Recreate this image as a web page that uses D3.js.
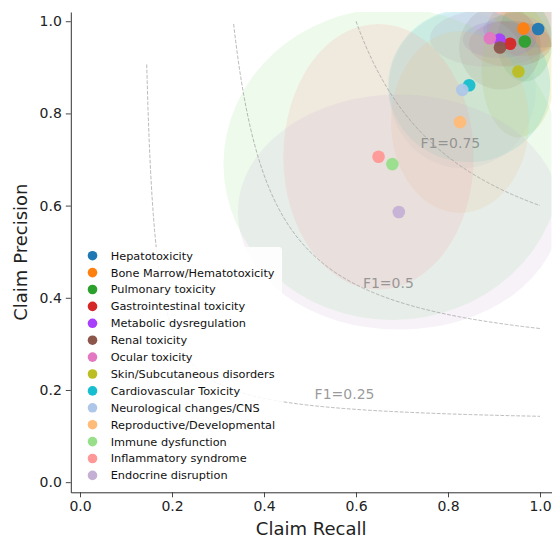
<!DOCTYPE html>
<html>
<head>
<meta charset="utf-8">
<script src="https://cdn.jsdelivr.net/npm/d3@7"></script>
<style>
  html, body { margin: 0; padding: 0; background: #fff; }
  svg { display: block; font-family: "DejaVu Sans", sans-serif; }
</style>
</head>
<body>
<svg id="chart" width="554" height="539"></svg>
<script>
// ---- data ----
const categories = [
  "Hepatotoxicity", "Bone Marrow/Hematotoxicity", "Pulmonary toxicity",
  "Gastrointestinal toxicity", "Metabolic dysregulation", "Renal toxicity",
  "Ocular toxicity", "Skin/Subcutaneous disorders", "Cardiovascular Toxicity",
  "Neurological changes/CNS", "Reproductive/Developmental", "Immune dysfunction",
  "Inflammatory syndrome", "Endocrine disruption"
];
const colors = [
  "#1f77b4", "#ff7f0e", "#2ca02c", "#d62728", "#a83ffc", "#8c564b",
  "#e377c2", "#bcbd22", "#17becf", "#aec7e8", "#ffbb78", "#98df8a",
  "#ff9896", "#c5b0d5"
];
const recall     = [0.996, 0.964, 0.967, 0.935, 0.912, 0.913, 0.891, 0.953, 0.846, 0.831, 0.826, 0.679, 0.649, 0.693];
const precision  = [0.983, 0.984, 0.956, 0.951, 0.960, 0.943, 0.963, 0.891, 0.861, 0.851, 0.781, 0.690, 0.706, 0.586];
const recallStd    = [0.12, 0.08, 0.06, 0.09, 0.08, 0.089, 0.13, 0.08, 0.176, 0.16, 0.15, 0.367, 0.207, 0.35];
const precisionStd = [0.04, 0.06, 0.087, 0.05, 0.04, 0.091, 0.062, 0.143, 0.167, 0.17, 0.197, 0.338, 0.288, 0.255];

const ticks = [0, 0.2, 0.4, 0.6, 0.8, 1.0];
const f1Levels = [0.25, 0.5, 0.75];
const f1StartRecall = [0.145, 0.334, 0.6];
const f1LabelRecall = [0.51, 0.615, 0.74];
const f1LabelPrecision = [0.19, 0.432, 0.735];

// ---- layout ----
const svg = d3.select("#chart");
const x = d3.scaleLinear().domain([-0.02, 1.025]).range([70.8, 551.5]);
const y = d3.scaleLinear().domain([-0.022, 1.02]).range([492.3, 12]);

svg.append("defs").append("clipPath").attr("id", "plotclip")
  .append("rect")
  .attr("x", x.range()[0]).attr("y", y.range()[1])
  .attr("width", x.range()[1] - x.range()[0])
  .attr("height", y.range()[0] - y.range()[1]);

const plot = svg.append("g").attr("clip-path", "url(#plotclip)");

const data = categories.map((c, i) => ({
  name: c, color: colors[i], r: recall[i], p: precision[i],
  sr: recallStd[i], sp: precisionStd[i]
}));

// ellipses
plot.selectAll("ellipse.sd").data(data).join("ellipse")
  .attr("class", "sd")
  .attr("cx", d => x(d.r))
  .attr("cy", d => y(d.p))
  .attr("rx", d => x(d.sr) - x(0))
  .attr("ry", d => y(0) - y(d.sp))
  .attr("fill", d => d.color)
  .attr("fill-opacity", 0.16);

// F1 iso-curves
const line = d3.line().x(d => x(d[0])).y(d => y(d[1]));
f1Levels.forEach((f, i) => {
  const pts = d3.range(0, 301).map(k => {
    const r = f1StartRecall[i] + (1 - f1StartRecall[i]) * k / 300;
    return [r, f * r / (2 * r - f)];
  });
  plot.append("path")
    .attr("d", line(pts))
    .attr("fill", "none")
    .attr("stroke", "#999")
    .attr("stroke-opacity", 0.75)
    .attr("stroke-width", 0.9)
    .attr("stroke-dasharray", "3.7,1.6");
  plot.append("text")
    .attr("x", x(f1LabelRecall[i]))
    .attr("y", y(f1LabelPrecision[i]))
    .attr("dy", "0.35em")
    .attr("font-size", 14)
    .attr("fill", "#888")
    .attr("fill-opacity", 0.85)
    .text("F1=" + f);
});

// points
plot.selectAll("circle.pt").data(data).join("circle")
  .attr("class", "pt")
  .attr("cx", d => x(d.r))
  .attr("cy", d => y(d.p))
  .attr("r", 6.3)
  .attr("fill", d => d.color)
  .attr("fill-opacity", 0.95);

// axes
const xAxis = svg.append("g")
  .attr("transform", `translate(0,${y.range()[0]})`)
  .call(d3.axisBottom(x).tickValues(ticks).tickFormat(d3.format(".1f"))
        .tickSize(5).tickSizeOuter(0).tickPadding(4));
const yAxis = svg.append("g")
  .attr("transform", `translate(${x.range()[0]},0)`)
  .call(d3.axisLeft(y).tickValues(ticks).tickFormat(d3.format(".1f"))
        .tickSize(5).tickSizeOuter(0).tickPadding(4));
[xAxis, yAxis].forEach(a => {
  a.selectAll("text").attr("font-size", 14).attr("fill", "#222")
   .attr("font-family", "DejaVu Sans, sans-serif");
  a.selectAll("line").attr("stroke", "#333").attr("stroke-width", 0.9);
  a.select(".domain").attr("stroke", "#333").attr("stroke-width", 1);
});

svg.append("text")
  .attr("x", (x.range()[0] + x.range()[1]) / 2)
  .attr("y", 535)
  .attr("text-anchor", "middle")
  .attr("font-size", 18)
  .attr("fill", "#222")
  .text("Claim Recall");
svg.append("text")
  .attr("transform", `translate(27,${(y.range()[0] + y.range()[1]) / 2}) rotate(-90)`)
  .attr("text-anchor", "middle")
  .attr("font-size", 18)
  .attr("fill", "#222")
  .text("Claim Precision");

// legend
const lg = svg.append("g");
lg.append("rect")
  .attr("x", 76).attr("y", 247).attr("width", 206).attr("height", 240)
  .attr("rx", 3).attr("fill", "#fff").attr("fill-opacity", 0.85);
const items = lg.selectAll("g.item").data(data).join("g")
  .attr("class", "item")
  .attr("transform", (d, i) => `translate(0,${255.7 + i * 16.9})`);
items.append("circle").attr("cx", 92.5).attr("cy", 0).attr("r", 4.8)
  .attr("fill", d => d.color);
items.append("text").attr("x", 110.7).attr("y", 0).attr("dy", "0.35em")
  .attr("font-size", 11.3).attr("fill", "#111")
  .text(d => d.name);
</script>
</body>
</html>
